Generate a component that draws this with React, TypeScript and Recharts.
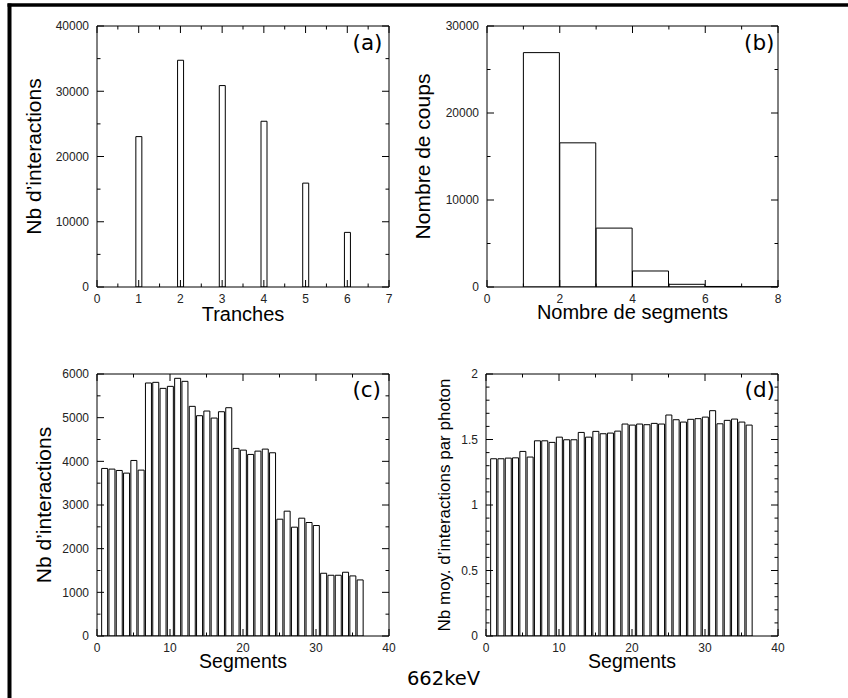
import React from 'react';
import { BarChart, Bar, XAxis, YAxis } from 'recharts';

// ---------- DATA ----------
const tranches = [1, 2, 3, 4, 5, 6];
const interactionsParTranche = [23050, 34750, 30870, 25400, 15920, 8370];

const binCentresSegments = [1.5, 2.5, 3.5, 4.5, 5.5, 6.5, 7.5];
const coupsParNbSegments = [26940, 16570, 6770, 1840, 310, 60, 15];

const segments = [
  1, 2, 3, 4, 5, 6, 7, 8, 9, 10, 11, 12, 13, 14, 15, 16, 17, 18,
  19, 20, 21, 22, 23, 24, 25, 26, 27, 28, 29, 30, 31, 32, 33, 34, 35, 36,
];
const interactionsParSegment = [
  3837, 3822, 3791, 3730, 4020, 3799, 5794, 5809, 5671, 5717, 5901, 5832,
  5259, 5045, 5152, 4991, 5136, 5228, 4296, 4257, 4158, 4234, 4280, 4196,
  2675, 2859, 2492, 2698, 2599, 2530, 1437, 1391, 1391, 1460, 1376, 1284,
];
const moyInteractionsParPhoton = [
  1.353, 1.353, 1.358, 1.36, 1.409, 1.366, 1.49, 1.49, 1.478, 1.518, 1.498, 1.498,
  1.554, 1.518, 1.562, 1.544, 1.549, 1.564, 1.618, 1.61, 1.618, 1.613, 1.623, 1.618,
  1.687, 1.651, 1.633, 1.654, 1.659, 1.671, 1.72, 1.62, 1.646, 1.656, 1.633, 1.61,
];

// ---------- TICKS ----------
const ticksXa = [0, 0.5, 1, 1.5, 2, 2.5, 3, 3.5, 4, 4.5, 5, 5.5, 6, 6.5, 7];
const majorXa = [0, 1, 2, 3, 4, 5, 6, 7];
const ticksYa = [0, 5000, 10000, 15000, 20000, 25000, 30000, 35000, 40000];
const majorYa = [0, 10000, 20000, 30000, 40000];

const ticksXb = [0, 1, 2, 3, 4, 5, 6, 7, 8];
const majorXb = [0, 2, 4, 6, 8];
const ticksYb = [0, 5000, 10000, 15000, 20000, 25000, 30000];
const majorYb = [0, 10000, 20000, 30000];

const ticksXcd = [0, 5, 10, 15, 20, 25, 30, 35, 40];
const majorXcd = [0, 10, 20, 30, 40];
const ticksYc = [0, 500, 1000, 1500, 2000, 2500, 3000, 3500, 4000, 4500, 5000, 5500, 6000];
const majorYc = [0, 1000, 2000, 3000, 4000, 5000, 6000];
const ticksYd = [0, 0.1, 0.2, 0.3, 0.4, 0.5, 0.6, 0.7, 0.8, 0.9, 1, 1.1, 1.2, 1.3, 1.4, 1.5, 1.6, 1.7, 1.8, 1.9, 2];
const majorYd = [0, 0.5, 1, 1.5, 2];

const dataA = tranches.map((x, i) => ({ x, v: interactionsParTranche[i] }));
const dataB = binCentresSegments.map((x, i) => ({ x, v: coupsParNbSegments[i] }));
const dataC = segments.map((x, i) => ({ x, v: interactionsParSegment[i] }));
const dataD = segments.map((x, i) => ({ x, v: moyInteractionsParPhoton[i] }));

// ---------- STYLE ----------
const FONT = '"Liberation Sans", Arial, Helvetica, sans-serif';
const LETTER_FONT = '"DejaVu Sans", Verdana, sans-serif';
const TICK_COLOR = '#222';

const isMajor = (majors: number[], v: number) => majors.some((m) => Math.abs(m - v) < 1e-6);

function tickRenderer(side: 'bottom' | 'top' | 'left' | 'right', majors: number[]) {
  return (props: any) => {
    const { x, y, payload } = props;
    const v = payload.value;
    const major = isMajor(majors, v);
    const len = major ? 7 : 3.5;
    let line: any;
    let label: any = null;
    if (side === 'bottom') {
      line = <line x1={x} y1={y} x2={x} y2={y - len} stroke="#000" strokeWidth={1} />;
      if (major)
        label = (
          <text x={x} y={y + 15.5} textAnchor="middle" fontSize={12} fontFamily={FONT} fill={TICK_COLOR}>
            {String(v)}
          </text>
        );
    } else if (side === 'top') {
      line = <line x1={x} y1={y} x2={x} y2={y + len} stroke="#000" strokeWidth={1} />;
    } else if (side === 'left') {
      line = <line x1={x} y1={y} x2={x + len} y2={y} stroke="#000" strokeWidth={1} />;
      if (major)
        label = (
          <text x={x - 8} y={y + 4.3} textAnchor="end" fontSize={12} fontFamily={FONT} fill={TICK_COLOR}>
            {String(v)}
          </text>
        );
    } else {
      line = <line x1={x} y1={y} x2={x - len} y2={y} stroke="#000" strokeWidth={1} />;
    }
    return (
      <g>
        {line}
        {label}
      </g>
    );
  };
}

type PanelProps = {
  left: number;
  top: number;
  width: number;
  height: number;
  axL: number;
  axR: number;
  axT: number;
  axB: number;
  data: any[];
  xDomain: [number, number];
  xTicks: number[];
  xMajors: number[];
  yDomain: [number, number];
  yTicks: number[];
  yMajors: number[];
  barSize?: number;
  xTitle: string;
  xTitleBaseline: number; // from chart bottom
  xTitleSize: number;
  yTitle: string;
  yTitleFromPlot: number;
  yTitleSize: number;
  letter: string;
  letterRight: number;
  letterBaseline: number;
};

function Panel(p: PanelProps) {
  const plotLeft = p.axL;
  const plotRight = p.width - p.axR;
  const plotTop = p.axT;
  const plotBottom = p.height - p.axB;

  const xTitleFn = () => (
    <text
      x={(plotLeft + plotRight) / 2}
      y={p.height - p.xTitleBaseline}
      textAnchor="middle"
      fontSize={p.xTitleSize}
      fontFamily={FONT}
      fill="#000"
    >
      {p.xTitle}
    </text>
  );
  const yTitleFn = () => {
    const cx = plotLeft - p.yTitleFromPlot;
    const cy = (plotTop + plotBottom) / 2;
    return (
      <text
        x={cx}
        y={cy}
        dy="0.36em"
        transform={`rotate(-90 ${cx} ${cy})`}
        textAnchor="middle"
        fontSize={p.yTitleSize}
        fontFamily={FONT}
        fill="#000"
      >
        {p.yTitle}
      </text>
    );
  };
  const letterFn = () => (
    <text
      x={plotRight - p.letterRight}
      y={plotTop + p.letterBaseline}
      textAnchor="end"
      fontSize={21.5}
      fontFamily={LETTER_FONT}
      fill="#000"
    >
      {p.letter}
    </text>
  );

  return (
    <div style={{ position: 'absolute', left: p.left, top: p.top, width: p.width, height: p.height }}>
      <BarChart
        width={p.width}
        height={p.height}
        data={p.data}
        margin={{ top: 0, right: 0, bottom: 0, left: 0 }}
        barCategoryGap={0}
        barGap={0}
      >
        <XAxis
          xAxisId="b"
          dataKey="x"
          type="number"
          orientation="bottom"
          domain={p.xDomain}
          ticks={p.xTicks}
          interval={0}
          height={p.axB}
          tickSize={0}
          tickMargin={0}
          tickLine={false}
          axisLine={{ stroke: '#000', strokeWidth: 1 }}
          tick={tickRenderer('bottom', p.xMajors)}
          label={xTitleFn}
          allowDataOverflow
        />
        <XAxis
          xAxisId="t"
          dataKey="x"
          type="number"
          orientation="top"
          domain={p.xDomain}
          ticks={p.xTicks}
          interval={0}
          height={p.axT}
          tickSize={0}
          tickMargin={0}
          tickLine={false}
          axisLine={{ stroke: '#000', strokeWidth: 1 }}
          tick={tickRenderer('top', p.xMajors)}
          allowDataOverflow
        />
        <YAxis
          yAxisId="l"
          type="number"
          orientation="left"
          domain={p.yDomain}
          ticks={p.yTicks}
          interval={0}
          width={p.axL}
          tickSize={0}
          tickMargin={0}
          tickLine={false}
          axisLine={{ stroke: '#000', strokeWidth: 1 }}
          tick={tickRenderer('left', p.yMajors)}
          label={yTitleFn}
          allowDataOverflow
        />
        <YAxis
          yAxisId="r"
          type="number"
          orientation="right"
          domain={p.yDomain}
          ticks={p.yTicks}
          interval={0}
          width={p.axR}
          tickSize={0}
          tickMargin={0}
          tickLine={false}
          axisLine={{ stroke: '#000', strokeWidth: 1 }}
          tick={tickRenderer('right', p.yMajors)}
          label={letterFn}
          allowDataOverflow
        />
        <Bar
          xAxisId="b"
          yAxisId="l"
          dataKey="v"
          fill="#fff"
          stroke="#000"
          strokeWidth={1}
          barSize={p.barSize}
          isAnimationActive={false}
        />
      </BarChart>
    </div>
  );
}

export default function App() {
  return (
    <div
      style={{
        position: 'absolute',
        left: 0,
        top: 0,
        width: 848,
        height: 698,
        background: '#fff',
        overflow: 'hidden',
      }}
    >
      <Panel
        left={0}
        top={0}
        width={400}
        height={330}
        axL={97}
        axR={11}
        axT={26}
        axB={43}
        data={dataA}
        xDomain={[0, 7]}
        xTicks={ticksXa}
        xMajors={majorXa}
        yDomain={[0, 40000]}
        yTicks={ticksYa}
        yMajors={majorYa}
        barSize={6}
        xTitle="Tranches"
        xTitleBaseline={9.3}
        xTitleSize={20}
        yTitle="Nb d’interactions"
        yTitleFromPlot={63.7}
        yTitleSize={21}
        letter="(a)"
        letterRight={6.5}
        letterBaseline={23.5}
      />
      <Panel
        left={400}
        top={0}
        width={448}
        height={330}
        axL={87}
        axR={70}
        axT={26}
        axB={43}
        data={dataB}
        xDomain={[0, 8]}
        xTicks={ticksXb}
        xMajors={majorXb}
        yDomain={[0, 30000]}
        yTicks={ticksYb}
        yMajors={majorYb}
        xTitle="Nombre de segments"
        xTitleBaseline={11}
        xTitleSize={20}
        yTitle="Nombre de coups"
        yTitleFromPlot={65}
        yTitleSize={21}
        letter="(b)"
        letterRight={3.5}
        letterBaseline={23.5}
      />
      <Panel
        left={0}
        top={330}
        width={424}
        height={368}
        axL={97}
        axR={35}
        axT={44}
        axB={62}
        data={dataC}
        xDomain={[0, 40]}
        xTicks={ticksXcd}
        xMajors={majorXcd}
        yDomain={[0, 6000]}
        yTicks={ticksYc}
        yMajors={majorYc}
        barSize={6}
        xTitle="Segments"
        xTitleBaseline={30.5}
        xTitleSize={19.5}
        yTitle="Nb d’interactions"
        yTitleFromPlot={54}
        yTitleSize={21}
        letter="(c)"
        letterRight={8}
        letterBaseline={22.5}
      />
      <Panel
        left={424}
        top={330}
        width={424}
        height={368}
        axL={62}
        axR={70}
        axT={44}
        axB={62}
        data={dataD}
        xDomain={[0, 40]}
        xTicks={ticksXcd}
        xMajors={majorXcd}
        yDomain={[0, 2]}
        yTicks={ticksYd}
        yMajors={majorYd}
        barSize={6}
        xTitle="Segments"
        xTitleBaseline={30.5}
        xTitleSize={19.5}
        yTitle="Nb moy. d’interactions par photon"
        yTitleFromPlot={42.5}
        yTitleSize={17}
        letter="(d)"
        letterRight={3}
        letterBaseline={22.5}
      />
      <svg
        width={848}
        height={698}
        style={{ position: 'absolute', left: 0, top: 0, pointerEvents: 'none' }}
      >
        <line x1={7.5} y1={5} x2={848} y2={5} stroke="#000" strokeWidth={3.5} />
        <line x1={9.5} y1={3.5} x2={9.5} y2={698} stroke="#000" strokeWidth={4} />
        <text x={443.5} y={685} textAnchor="middle" fontSize={19.5} fontFamily={LETTER_FONT} fill="#000">
          662keV
        </text>
      </svg>
    </div>
  );
}
